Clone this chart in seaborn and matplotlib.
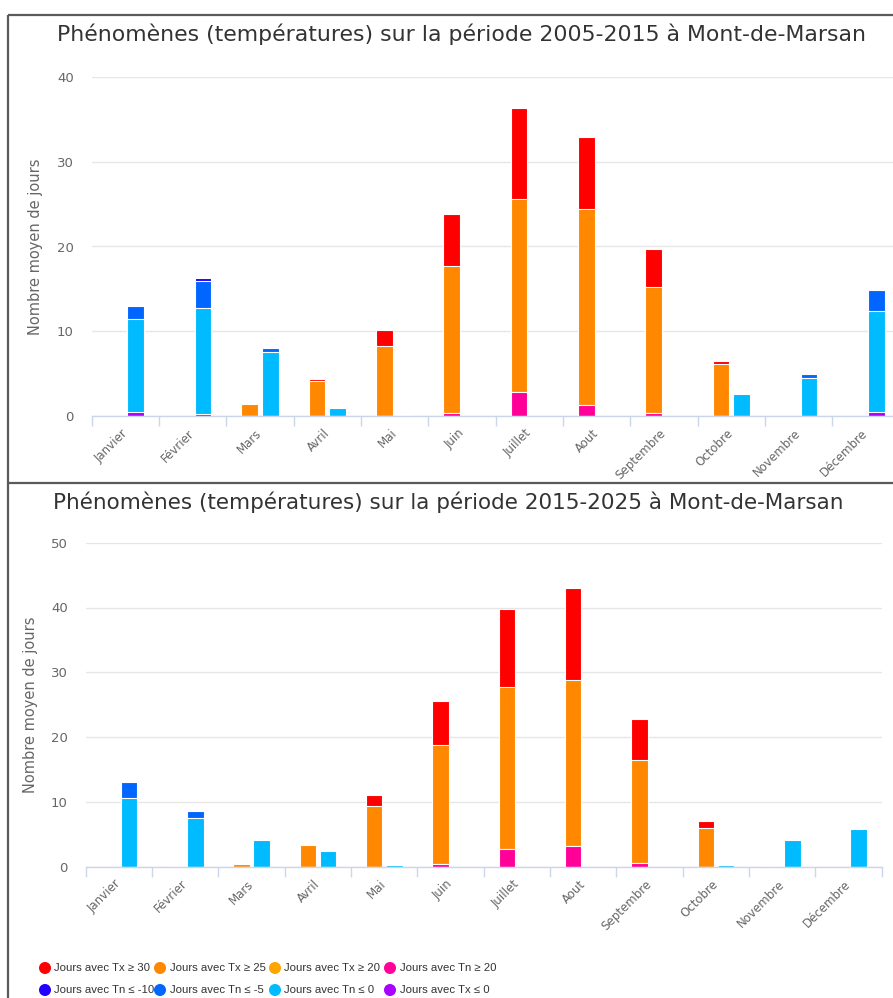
import numpy as np
import pandas as pd
import matplotlib
matplotlib.use("Agg")
import matplotlib.pyplot as plt
import seaborn as sns

# ---------------- data ----------------
mois = ["Janvier", "Février", "Mars", "Avril", "Mai", "Juin", "Juillet",
        "Aout", "Septembre", "Octobre", "Novembre", "Décembre"]

titre_1 = "Phénomènes (températures) sur la période 2005-2015 à Mont-de-Marsan"
titre_2 = "Phénomènes (températures) sur la période 2015-2025 à Mont-de-Marsan"
label_y = "Nombre moyen de jours"

# 2005-2015
p1_tx30 = [0, 0, 0, 0.3, 1.8, 6.1, 10.7, 8.5, 4.5, 0.4, 0, 0]
p1_tx25 = [0, 0, 1.4, 4.1, 8.3, 17.4, 22.8, 23.1, 14.9, 6.1, 0, 0]
p1_tx20 = [0, 0, 0, 0, 0, 0, 0, 0, 0, 0, 0, 0]
p1_tn20 = [0, 0, 0, 0, 0, 0.3, 2.8, 1.3, 0.3, 0, 0, 0]
p1_tnm10 = [0, 0.4, 0, 0, 0, 0, 0, 0, 0, 0, 0, 0]
p1_tnm5 = [1.6, 3.2, 0.5, 0, 0, 0, 0, 0, 0, 0, 0.5, 2.5]
p1_tn0 = [10.9, 12.5, 7.5, 0.9, 0.1, 0, 0, 0, 0, 2.6, 4.5, 11.9]
p1_tx0 = [0.5, 0.2, 0, 0, 0, 0, 0, 0, 0, 0, 0, 0.5]

# 2015-2025
p2_tx30 = [0, 0, 0, 0, 1.7, 6.7, 12.0, 14.2, 6.4, 1.05, 0, 0]
p2_tx25 = [0, 0.1, 0.4, 3.35, 9.4, 18.45, 25.0, 25.55, 15.9, 6.0, 0.1, 0]
p2_tx20 = [0, 0, 0, 0, 0, 0, 0, 0, 0, 0, 0, 0]
p2_tn20 = [0, 0, 0, 0, 0, 0.35, 2.7, 3.25, 0.5, 0, 0, 0]
p2_tnm10 = [0, 0, 0, 0, 0, 0, 0, 0, 0, 0, 0, 0]
p2_tnm5 = [2.55, 1.05, 0, 0, 0, 0, 0, 0, 0, 0, 0, 0]
p2_tn0 = [10.55, 7.55, 4.1, 2.4, 0.3, 0, 0, 0, 0, 0.3, 4.1, 5.8]
p2_tx0 = [0, 0, 0, 0, 0, 0, 0, 0, 0, 0, 0, 0]

series_noms = ["Jours avec Tx ≥ 30", "Jours avec Tx ≥ 25", "Jours avec Tx ≥ 20",
               "Jours avec Tn ≥ 20", "Jours avec Tn ≤ -10", "Jours avec Tn ≤ -5",
               "Jours avec Tn ≤ 0", "Jours avec Tx ≤ 0"]
series_couleurs = ["#FF0000", "#FF8800", "#FFA500", "#FF0099",
                   "#2200FF", "#0066FF", "#00BBFF", "#AA00FF"]

# ---------------- style ----------------
sns.set_theme(style="white")
plt.rcParams["font.family"] = ["DejaVu Sans"]

W, H = 893, 998
fig = plt.figure(figsize=(W / 100, H / 100), dpi=100)

GRID = "#e6e6e6"
AXIS = "#ccd6eb"
TXT = "#666666"


def draw_panel(ax, hot, cold, hot_cols, cold_cols, ymax, ystep, ylabel_x):
    hot_cum = np.cumsum(np.array(hot, dtype=float), axis=0)
    cold_cum = np.cumsum(np.array(cold, dtype=float), axis=0)
    for lvl in reversed(range(len(hot))):
        df = pd.DataFrame({
            "mois": mois * 2,
            "pile": ["chaud"] * 12 + ["froid"] * 12,
            "haut": np.concatenate([hot_cum[lvl], cold_cum[lvl]]),
        })
        sns.barplot(data=df, x="mois", y="haut", hue="pile", order=mois,
                    hue_order=["chaud", "froid"],
                    palette={"chaud": hot_cols[lvl], "froid": cold_cols[lvl]},
                    width=0.61, gap=0.19, dodge=True, errorbar=None,
                    legend=False, saturation=1, edgecolor="white",
                    linewidth=0.8, ax=ax)
    ax.set_xlim(-0.5, 11.5)
    ax.set_ylim(0, ymax)
    ax.set_yticks(np.arange(0, ymax + 0.1, ystep))
    ax.set_axisbelow(True)
    ax.yaxis.grid(True, color=GRID, linewidth=1)
    ax.xaxis.grid(False)
    for s in ["top", "right", "left"]:
        ax.spines[s].set_visible(False)
    ax.spines["bottom"].set_color(AXIS)
    ax.spines["bottom"].set_linewidth(1)
    ax.set_xticks(range(12))
    ax.set_xticklabels(mois, rotation=45, ha="right", va="center",
                       rotation_mode="anchor")
    ax.set_xticks(np.arange(-0.5, 12, 1), minor=True)
    ax.tick_params(axis="x", which="major", length=0, pad=11,
                   labelsize=8.5, labelcolor=TXT)
    ax.tick_params(axis="x", which="minor", length=7.5, width=1,
                   color=AXIS, bottom=True)
    ax.tick_params(axis="y", length=0, pad=13, labelsize=9.5, labelcolor=TXT)
    ax.set_xlabel("")
    ax.set_ylabel(label_y, fontsize=10.5, color=TXT)
    ax.yaxis.set_label_coords(ylabel_x, 0.5)


hot_cols = [series_couleurs[3], series_couleurs[2], series_couleurs[1], series_couleurs[0]]
cold_cols = [series_couleurs[7], series_couleurs[6], series_couleurs[5], series_couleurs[4]]

ax1 = fig.add_axes([91.7 / W, (H - 416) / H, 808 / W, 339 / H])
draw_panel(ax1, [p1_tn20, p1_tx20, p1_tx25, p1_tx30],
           [p1_tx0, p1_tn0, p1_tnm5, p1_tnm10], hot_cols, cold_cols,
           40, 10, -0.060)

ax2 = fig.add_axes([85.7 / W, (H - 866.7) / H, 796 / W, 324 / H])
draw_panel(ax2, [p2_tn20, p2_tx20, p2_tx25, p2_tx30],
           [p2_tx0, p2_tn0, p2_tnm5, p2_tnm10], hot_cols, cold_cols,
           50, 10, -0.060)

# titles
fig.text(461.5 / W, 1 - 41 / H, titre_1, ha="center", va="baseline",
         fontsize=15.8, color="#333333")
fig.text(448.5 / W, 1 - 509 / H, titre_2, ha="center", va="baseline",
         fontsize=15.5, color="#333333")

# overlay for frames and legend
ov = fig.add_axes([0, 0, 1, 1], facecolor="none")
ov.set_xlim(0, W)
ov.set_ylim(H, 0)
ov.axis("off")
frame = "#5a5a5a"
ov.plot([8, W], [15, 15], color=frame, lw=1.6, solid_capstyle="butt")
ov.plot([8, 8], [15, H], color=frame, lw=1.6, solid_capstyle="butt")
ov.plot([8, W], [483, 483], color=frame, lw=1.6, solid_capstyle="butt")

leg_order = [[0, 1, 2, 3], [4, 5, 6, 7]]
col_x = [45, 160, 275, 390]
row_y = [968, 990]
for r, row in enumerate(leg_order):
    for c, idx in enumerate(row):
        ov.scatter([col_x[c]], [row_y[r]], s=75, color=series_couleurs[idx],
                   edgecolors="none")
        ov.text(col_x[c] + 9.5, row_y[r], series_noms[idx], ha="left",
                va="center", fontsize=8.2, color="#333333",
                family=["Liberation Sans", "DejaVu Sans"])

fig.savefig("out.png", dpi=100)
